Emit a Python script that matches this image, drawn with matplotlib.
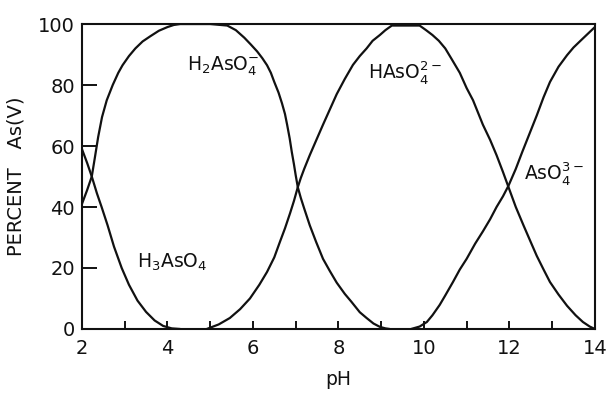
import matplotlib
matplotlib.use("Agg")
import matplotlib.pyplot as plt

# Distribution of arsenic(V) species versus pH (percent of total As(V))
h3_ph = [2.0, 2.12, 2.23, 2.35, 2.46, 2.6, 2.75, 2.93, 3.1, 3.3, 3.5, 3.7, 3.9, 4.1, 4.3]
h3_pct = [59, 54.5, 50, 44.5, 40, 34, 27, 20, 14.5, 9.3, 5.6, 2.8, 1.0, 0.2, 0]

h2_ph = [2.0, 2.12, 2.23, 2.3, 2.38, 2.47, 2.58, 2.72, 2.85, 2.95, 3.1, 3.25, 3.42,
         3.6, 3.8, 4.0, 4.15, 4.3, 5.0, 5.4, 5.6, 5.8, 5.95, 6.1, 6.22, 6.33, 6.42,
         6.5, 6.6, 6.68, 6.75, 6.8, 6.86, 6.91, 6.96, 7.0, 7.05, 7.12, 7.2, 7.33,
         7.48, 7.64, 7.8, 7.96, 8.15, 8.3, 8.5, 8.66, 8.82, 8.97, 9.1, 9.2]
h2_pct = [41, 45.5, 50, 56, 63, 69.5, 75, 80, 84, 86.5, 89.5, 92, 94.3,
          96, 97.8, 99, 99.7, 100, 100, 99.5, 98, 95.5, 93.3, 91, 88.8, 86.5, 84,
          81, 77.5, 74, 70.5, 67, 62.5, 58, 54, 50.5, 46.5, 43, 39.5, 34,
          28.5, 23, 19, 15.2, 11.5, 9, 5.5, 3.6, 1.8, 0.7, 0.2, 0]

h1_ph = [4.92, 5.2, 5.46, 5.7, 5.93, 6.15, 6.33, 6.5, 6.63, 6.75, 6.87, 6.96, 7.05,
         7.12, 7.2, 7.33, 7.5, 7.64, 7.8, 7.96, 8.15, 8.34, 8.5, 8.66, 8.8, 8.97,
         9.1, 9.25, 9.9, 10.05, 10.2, 10.35, 10.5, 10.65, 10.84, 11.0, 11.15, 11.38,
         11.55, 11.7, 11.85, 11.98, 12.15, 12.33, 12.5, 12.64, 12.8, 12.95, 13.15,
         13.35, 13.55, 13.72, 13.88, 14.0]
h1_pct = [0, 1.5, 3.6, 6.5, 10, 14.5, 18.7, 23.5, 28.5, 33, 38, 42, 46.5,
          49.5, 52.5, 57, 62.5, 67, 72, 77, 82, 86.6, 89.5, 92, 94.5, 96.4,
          98, 99.5, 99.5, 98, 96.4, 94.5, 92, 88.5, 84, 79, 75, 67,
          62, 57, 51.5, 46.5, 40, 34, 28.5, 24, 19.5, 15.4, 11.3,
          7.6, 4.5, 2.3, 0.8, 0]

as_ph = [9.7, 9.9, 10.07, 10.2, 10.37, 10.5, 10.68, 10.84, 11.0, 11.2, 11.38, 11.55,
         11.7, 11.85, 11.98, 12.15, 12.3, 12.47, 12.64, 12.8, 12.95, 13.15, 13.35,
         13.5, 13.7, 13.85, 14.0]
as_pct = [0, 0.8, 2.3, 4.5, 7.9, 11, 15.4, 19.5, 23, 28, 32, 36,
          40, 43.5, 47, 52.5, 58, 64, 70, 76, 81, 86, 89.8,
          92.3, 95, 97, 99]

species = [
    (h3_ph, h3_pct, r"H$_3$AsO$_4$", (4.1, 22)),
    (h2_ph, h2_pct, r"H$_2$AsO$_4^{-}$", (5.3, 86)),
    (h1_ph, h1_pct, r"HAsO$_4^{2-}$", (9.55, 84)),
    (as_ph, as_pct, r"AsO$_4^{3-}$", (13.05, 51)),
]

x_ticks = [2, 4, 6, 8, 10, 12, 14]
y_ticks = [0, 20, 40, 60, 80, 100]

fig = plt.figure(figsize=(6.07, 3.94), dpi=100)
ax = fig.add_axes([0.135, 0.165, 0.845, 0.774])

ink = "#111111"
for ph, pct, label, pos in species:
    ax.plot(ph, pct, color=ink, lw=1.6, solid_capstyle="round",
            solid_joinstyle="round")
    ax.text(pos[0], pos[1], label, fontsize=13.5, color=ink,
            ha="center", va="center")

ax.set_xlim(2, 14)
ax.set_ylim(0, 100)
ax.set_xticks(x_ticks)
ax.set_xticks(range(2, 15), minor=True)
ax.set_yticks(y_ticks)
ax.tick_params(axis="x", which="both", direction="in", length=6, width=1.4,
               labelsize=14, pad=7, colors=ink)
ax.tick_params(axis="y", which="major", direction="in", length=11, width=1.4,
               labelsize=14, pad=5, colors=ink)

for side in ax.spines.values():
    side.set_linewidth(1.5)
    side.set_color(ink)

ax.set_xlabel("pH", fontsize=13.5, color=ink, labelpad=9)
ax.set_ylabel("PERCENT   As(V)", fontsize=14, color=ink, labelpad=9)

fig.savefig("out.png", dpi=100)
